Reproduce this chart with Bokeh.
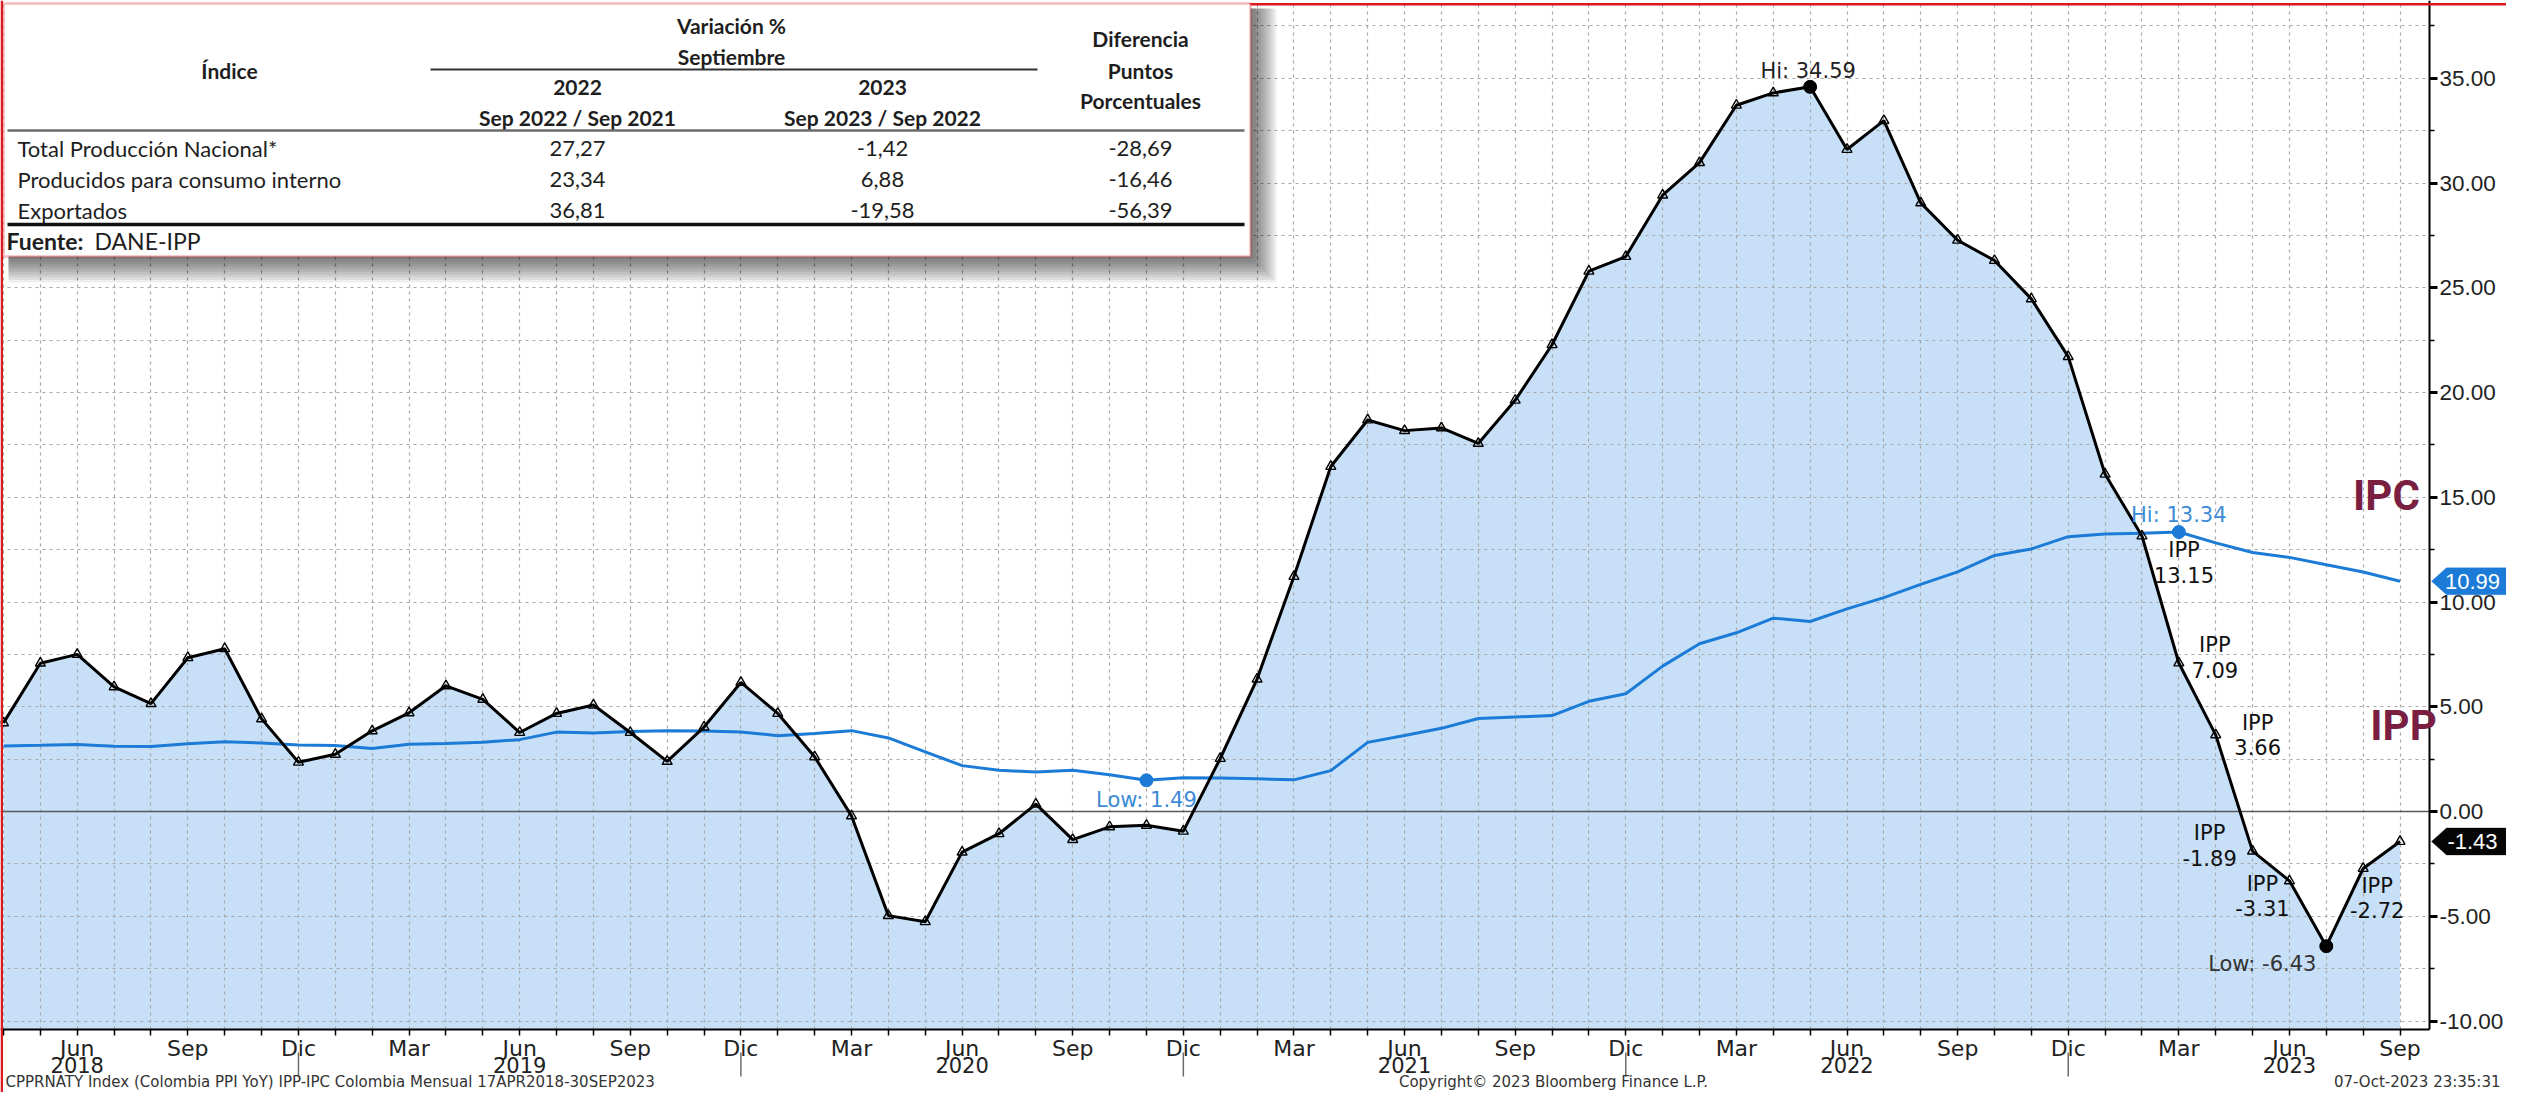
from bokeh.plotting import figure
from bokeh.models import (Range1d, FixedTicker, NumeralTickFormatter, Span, Label,
                          BoxAnnotation, PolyAnnotation)
from bokeh.embed import file_html
from bokeh.resources import INLINE

# ---------------- data ----------------
START_YEAR, START_MONTH = 2018, 4          # first observation: Apr 2018
MONTH_ABBR = ["Ene", "Feb", "Mar", "Abr", "May", "Jun",
              "Jul", "Ago", "Sep", "Oct", "Nov", "Dic"]
TICK_MONTHS = ["Mar", "Jun", "Sep", "Dic"]
YEARS = [2018, 2019, 2020, 2021, 2022, 2023]

# IPP (Colombia PPI YoY, %), Apr-2018 .. Sep-2023
IPP = [4.23, 7.08, 7.50, 5.95, 5.15, 7.34, 7.77, 4.42, 2.35,
       2.73, 3.85, 4.71, 6.00, 5.35, 3.77, 4.68, 5.08, 3.77, 2.39, 4.03, 6.16,
       4.68, 2.61, -0.21, -4.97, -5.26, -1.94, -1.06, 0.35, -1.34, -0.73, -0.66, -0.94,
       2.53, 6.32, 11.22, 16.47, 18.69, 18.18, 18.31, 17.57, 19.63, 22.28, 25.79, 26.49,
       29.42, 30.97, 33.71, 34.30, 34.59, 31.60, 32.98, 29.05, 27.27, 26.30, 24.47, 21.71,
       16.10, 13.15, 7.09, 3.66, -1.89, -3.31, -6.43, -2.72, -1.43]
# IPC (Colombia CPI YoY, %), Apr-2018 .. Sep-2023
IPC = [3.13, 3.16, 3.20, 3.12, 3.10, 3.23, 3.33, 3.27, 3.18,
       3.15, 3.01, 3.21, 3.25, 3.31, 3.43, 3.79, 3.75, 3.82, 3.86, 3.84, 3.80,
       3.62, 3.72, 3.86, 3.51, 2.85, 2.19, 1.97, 1.88, 1.97, 1.75, 1.49, 1.61,
       1.60, 1.56, 1.51, 1.95, 3.30, 3.63, 3.97, 4.44, 4.51, 4.58, 5.26, 5.62,
       6.94, 8.01, 8.53, 9.23, 9.07, 9.67, 10.21, 10.84, 11.44, 12.22, 12.53, 13.12,
       13.25, 13.28, 13.34, 12.82, 12.36, 12.13, 11.78, 11.43, 10.99]

# months (index) that carry an "IPP <value>" callout
IPP_CALLOUTS = [58, 59, 60, 61, 62, 64]

# table
TABLE_ROWS = ["Total Producción Nacional*", "Producidos para consumo interno", "Exportados"]
VAR_2022 = [27.27, 23.34, 36.81]
VAR_2023 = [-1.42, 6.88, -19.58]
DIFF_PP = [-28.69, -16.46, -56.39]

FOOT_LEFT = "CPPRNATY Index (Colombia PPI YoY) IPP-IPC Colombia  Mensual 17APR2018-30SEP2023"
FOOT_MID = "Copyright\u00a9 2023 Bloomberg Finance L.P."
FOOT_RIGHT = "07-Oct-2023 23:35:31"

# ---------------- geometry / style ----------------
W, H = 2506, 1092
X0_PAGE, PX_PER_MONTH = 3.0, 36.87
Y0_PAGE, PX_PER_UNIT = 811.0, 20.95
PLOT_R, PLOT_B = 2429, 1029          # right axis line / bottom axis line (pixels)

BLACK = "#000000"
BLUE = "#1C7BD6"
BLUE_TXT = "#3D8BD6"
FILL = "#C7E0F8"
GRID = "#A8A8A8"
MAROON = "#7A1F42"
RED = "#DA1A1F"
TXT = "#222222"
TABLE_FONT = "Lato"


def dx(px):
    return (px - X0_PAGE) / PX_PER_MONTH


def dy(py):
    return (Y0_PAGE - py) / PX_PER_UNIT


n = len(IPP)
idx = list(range(n))
month_of = [(START_MONTH - 1 + i) % 12 for i in idx]
year_of = [START_YEAR + (START_MONTH - 1 + i) // 12 for i in idx]

p = figure(width=W, height=H, output_backend="svg", toolbar_location=None,
           x_range=Range1d(dx(0), dx(W)), y_range=Range1d(dy(H), dy(0)),
           y_axis_location="right",
           min_border_left=0, min_border_right=0, min_border_top=0, min_border_bottom=0,
           outline_line_color=None,
           background_fill_color="white", border_fill_color="white")

# grids
p.xgrid.ticker = FixedTicker(ticks=idx)
p.ygrid.ticker = FixedTicker(ticks=[-10 + 2.5 * k for k in range(20)])
for g in (p.xgrid, p.ygrid):
    g.grid_line_color = GRID
    g.grid_line_width = 1.2
    g.grid_line_dash = "3 4"

# x axis (drawn at the bottom of the plotting area)
major_idx = [i for i in idx if MONTH_ABBR[month_of[i]] in TICK_MONTHS]
p.xaxis.fixed_location = dy(PLOT_B)
p.xaxis.bounds = (dx(0), dx(PLOT_R))
p.xaxis.ticker = FixedTicker(ticks=major_idx, minor_ticks=idx)
p.xaxis.major_label_overrides = {i: MONTH_ABBR[month_of[i]] for i in major_idx}
p.xaxis.axis_line_color = BLACK
p.xaxis.axis_line_width = 2
p.xaxis.major_tick_in = 0
p.xaxis.major_tick_out = 0
p.xaxis.major_tick_line_color = None
p.xaxis.minor_tick_in = 0
p.xaxis.minor_tick_out = 6
p.xaxis.minor_tick_line_color = BLACK
p.xaxis.minor_tick_line_width = 1.5
p.xaxis.major_label_standoff = 0
p.xaxis.major_label_text_font = "DejaVu Sans"
p.xaxis.major_label_text_font_size = "22px"
p.xaxis.major_label_text_color = TXT

# y axis (right side of the plotting area)
p.yaxis.fixed_location = dx(PLOT_R)
p.yaxis.bounds = (dy(PLOT_B), dy(0))
p.yaxis.ticker = FixedTicker(ticks=[-10 + 5 * k for k in range(10)],
                             minor_ticks=[-10 + 2.5 * k for k in range(20)])
p.yaxis.formatter = NumeralTickFormatter(format="0.00")
p.yaxis.axis_line_color = BLACK
p.yaxis.axis_line_width = 2
p.yaxis.major_tick_in = 0
p.yaxis.major_tick_out = 8
p.yaxis.major_tick_line_width = 3
p.yaxis.minor_tick_in = 0
p.yaxis.minor_tick_out = 5
p.yaxis.minor_tick_line_width = 1.5
p.yaxis.major_label_standoff = 2
p.yaxis.major_label_text_font = "Liberation Sans"
p.yaxis.major_label_text_font_size = "22.5px"
p.yaxis.major_label_text_color = TXT

# area under IPP, down to the bottom axis
floor = [dy(PLOT_B)] * n
p.varea(x=idx, y1=floor, y2=IPP, fill_color=FILL, level="image")

p.add_layout(Span(location=0, dimension="width", line_color="#5A5A5A",
                  line_width=1.5, level="underlay"))
# keep grid lines inside the plotting area
p.add_layout(BoxAnnotation(left=dx(0), right=dx(W), top=dy(PLOT_B + 1), bottom=dy(H),
                           fill_color="white", fill_alpha=1, line_color=None,
                           level="underlay"))
p.add_layout(BoxAnnotation(left=dx(PLOT_R + 1), right=dx(W), top=dy(0), bottom=dy(PLOT_B),
                           fill_color="white", fill_alpha=1, line_color=None,
                           level="underlay"))

# lines
p.line(idx, IPC, line_color=BLUE, line_width=3)
p.line(idx, IPP, line_color=BLACK, line_width=3)
p.scatter(idx, IPP, marker="triangle", size=10, line_color=BLACK,
          fill_alpha=0, line_width=1.4)

# hi / low markers
ipp_hi = max(idx, key=lambda i: IPP[i])
ipp_lo = min(idx, key=lambda i: IPP[i])
ipc_hi = max(idx, key=lambda i: IPC[i])
ipc_lo = min(idx, key=lambda i: IPC[i])
p.scatter([ipp_hi, ipp_lo], [IPP[ipp_hi], IPP[ipp_lo]], size=13, color=BLACK)
p.scatter([ipc_hi, ipc_lo], [IPC[ipc_hi], IPC[ipc_lo]], size=13, color=BLUE)


def point_label(i, v, text, ox, oy_down, color="#111111", size=21):
    p.add_layout(Label(x=i, y=v, text=text, x_offset=ox, y_offset=-oy_down,
                       text_align="center", text_baseline="middle",
                       text_font="DejaVu Sans", text_font_size=f"{size}px",
                       text_color=color, text_line_height=1.05))


point_label(ipp_hi, IPP[ipp_hi], f"Hi: {IPP[ipp_hi]:.2f}", -2, -16, TXT)
point_label(ipp_lo, IPP[ipp_lo], f"Low: {IPP[ipp_lo]:.2f}", -64, 18, "#333333")
point_label(ipc_hi, IPC[ipc_hi], f"Hi: {IPC[ipc_hi]:.2f}", 0, -17, BLUE_TXT)
point_label(ipc_lo, IPC[ipc_lo], f"Low: {IPC[ipc_lo]:.2f}", 0, 20, BLUE_TXT)

callout_offsets = {58: (42, 27), 59: (36, -5), 60: (42, 1), 61: (-43, -5),
                   62: (-27, 16), 64: (14, 30)}
for i in IPP_CALLOUTS:
    ox, oy = callout_offsets[i]
    point_label(i, IPP[i], f"IPP\n{IPP[i]:.2f}", ox, oy)

# series names
for txt, px, py in (("IPC", 2386, 495), ("IPP", 2403, 725)):
    p.add_layout(Label(x=dx(px), y=dy(py), text=txt, text_align="center",
                       text_baseline="middle", text_font="Roboto",
                       text_font_style="bold", text_font_size="42px",
                       text_color=MAROON))

# last-value tags on the right axis
HALF = 13.5 / PX_PER_UNIT
for series, bg in ((IPC, BLUE), (IPP, "#050505")):
    v = series[-1]
    p.add_layout(PolyAnnotation(
        xs=[dx(PLOT_R + 2), dx(PLOT_R + 17), dx(W + 5), dx(W + 5), dx(PLOT_R + 17)],
        ys=[v, v + HALF, v + HALF, v - HALF, v - HALF],
        fill_color=bg, fill_alpha=1, line_color=bg, line_width=1))
    p.add_layout(Label(x=dx(2472), y=v, text=f"{v:.2f}", text_align="center",
                       text_baseline="middle", text_font="Liberation Sans",
                       text_font_size="22px", text_color="white"))

# year labels and year separators under the x axis
for yr in YEARS:
    jun = [i for i in idx if year_of[i] == yr and month_of[i] == 5]
    if jun:
        p.add_layout(Label(x=jun[0], y=dy(1064), text=str(yr), text_align="center",
                           text_baseline="middle", text_font="DejaVu Sans",
                           text_font_size="21px", text_color=TXT))
for i in idx:
    if month_of[i] == 11:
        p.add_layout(BoxAnnotation(left=i - 0.02, right=i + 0.02, top=dy(1052),
                                   bottom=dy(1076), fill_color="#6A6A6A",
                                   fill_alpha=1, line_color=None))

# footer
for txt, px, align in ((FOOT_LEFT, 5, "left"), (FOOT_MID, 1553, "center"),
                       (FOOT_RIGHT, 2500, "right")):
    p.add_layout(Label(x=dx(px), y=dy(1081), text=txt, text_align=align,
                       text_baseline="middle", text_font="DejaVu Sans",
                       text_font_size="15px", text_color="#333333"))

# red frame of the screenshot
for l, r, t, b in ((0, 2.5, 0, H), (1248, W, 2.5, 5)):
    p.add_layout(BoxAnnotation(left=dx(l), right=dx(r), top=dy(t), bottom=dy(b),
                               fill_color=RED, fill_alpha=1, line_color=None))

# ---------------- table overlay ----------------
for k in range(10):
    e = 2.6 * (k + 1)
    p.add_layout(BoxAnnotation(left=dx(8), right=dx(1250 + e), top=dy(8),
                               bottom=dy(256 + e), fill_color="#000000",
                               fill_alpha=0.065, line_color=None))
p.add_layout(BoxAnnotation(left=dx(3), right=dx(1250), top=dy(3), bottom=dy(256),
                           fill_color="white", fill_alpha=1, line_color=RED,
                           line_width=2.5))


def hline(x0, x1, y, width, color):
    p.add_layout(BoxAnnotation(left=dx(x0), right=dx(x1), top=dy(y - width / 2),
                               bottom=dy(y + width / 2), fill_color=color,
                               fill_alpha=1, line_color=None))


def tlabel(px, py, text, bold=False, align="center", size=21):
    p.add_layout(Label(x=dx(px), y=dy(py), text=text, text_align=align,
                       text_baseline="middle", text_font=TABLE_FONT,
                       text_font_size=f"{size}px",
                       text_font_style="bold" if bold else "normal",
                       text_color="#1E1E1E"))


COL_A, COL_B, COL_C = 577, 882, 1140
tlabel(731, 25, "Variación %", bold=True)
tlabel(731, 56, "Septiembre", bold=True)
hline(430, 1037, 69, 2, "#333333")
tlabel(229, 70, "Índice", bold=True)
tlabel(COL_A, 87, "2022", bold=True)
tlabel(COL_B, 87, "2023", bold=True)
tlabel(COL_A, 117, "Sep 2022 / Sep 2021", bold=True)
tlabel(COL_B, 117, "Sep 2023 / Sep 2022", bold=True)
tlabel(COL_C, 38, "Diferencia", bold=True)
tlabel(COL_C, 70, "Puntos", bold=True)
tlabel(COL_C, 100, "Porcentuales", bold=True)
hline(7, 1244, 130, 2.5, "#6B6B6B")


def fmt(v):
    return f"{v:.2f}".replace(".", ",")


for r, name in enumerate(TABLE_ROWS):
    ry = 148 + 31 * r
    tlabel(17, ry, name, align="left", size=22)
    tlabel(COL_A, ry, fmt(VAR_2022[r]), size=22)
    tlabel(COL_B, ry, fmt(VAR_2023[r]), size=22)
    tlabel(COL_C, ry, fmt(DIFF_PP[r]), size=22)
hline(7, 1244, 224, 3.5, "#111111")
tlabel(6, 240, "Fuente:", bold=True, align="left", size=23)
tlabel(94, 240, "DANE-IPP", align="left", size=23)

open("out.html", "w").write(file_html(p, INLINE))
